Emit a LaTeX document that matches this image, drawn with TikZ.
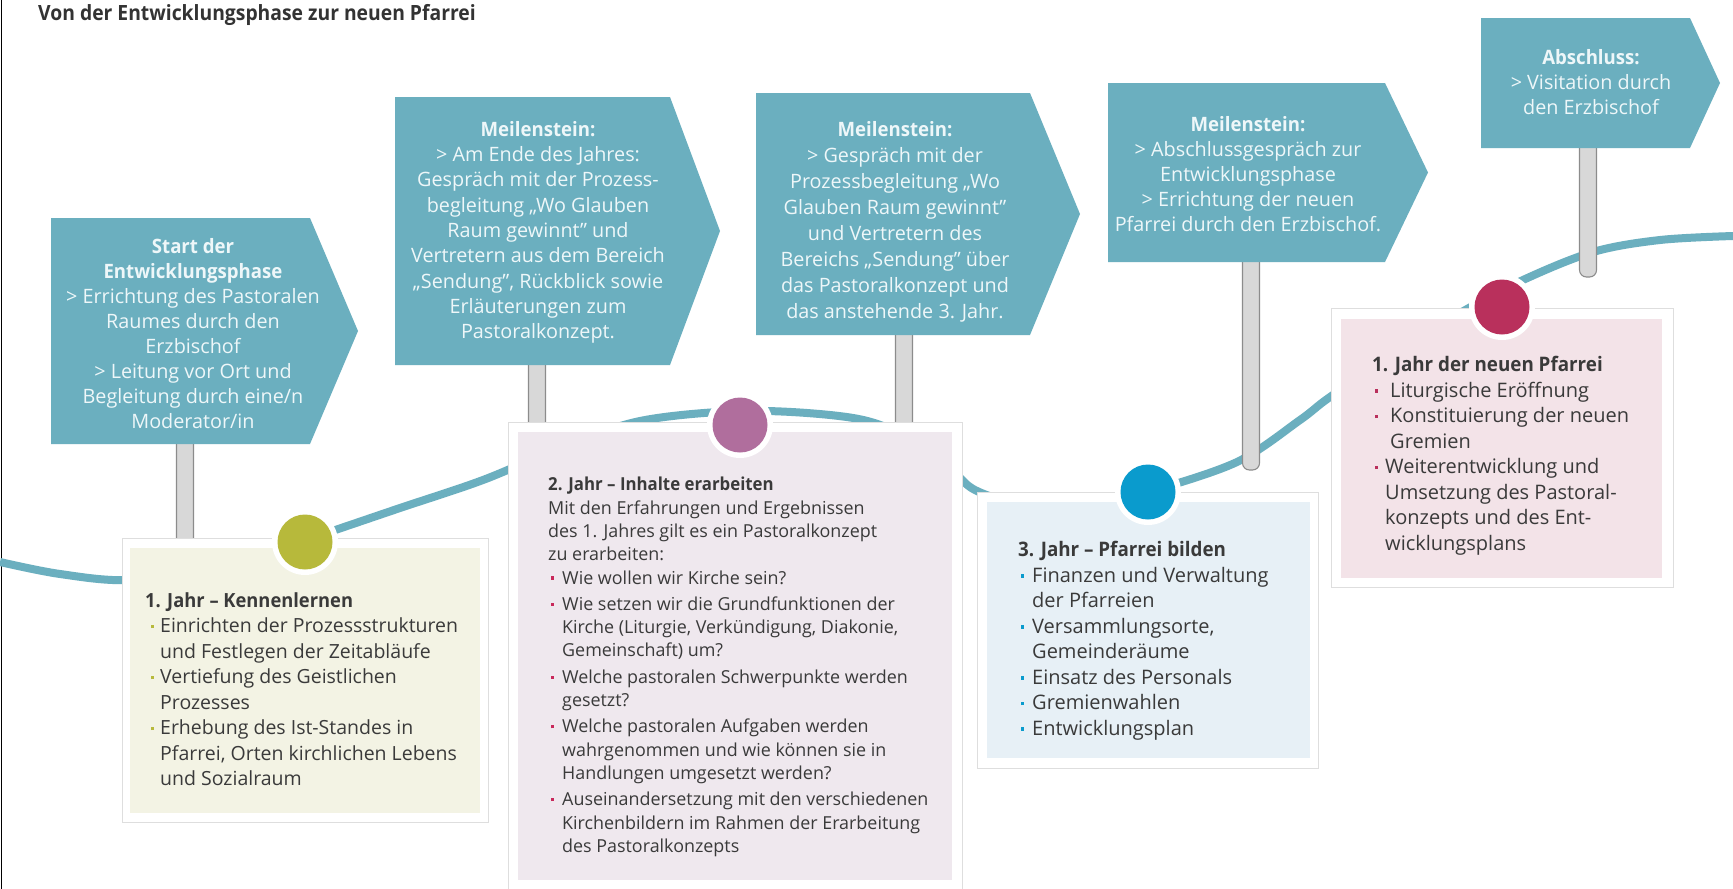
\documentclass[tikz,border=0pt]{standalone}
\usepackage{fontspec}
\setmainfont{Open Sans}
\definecolor{teal0}{HTML}{6BAFBF}
\definecolor{signtxt}{HTML}{EEF7F9}
\definecolor{ink}{HTML}{3A3A3A}
\definecolor{fillA}{HTML}{F3F3E4}
\definecolor{fillB}{HTML}{EFE8EE}
\definecolor{fillC}{HTML}{E7F0F6}
\definecolor{fillD}{HTML}{F3E3E8}
\definecolor{dotA}{HTML}{B7B93B}
\definecolor{dotB}{HTML}{B06E9D}
\definecolor{dotC}{HTML}{0A9BCD}
\definecolor{dotD}{HTML}{B9305C}
\definecolor{bulB}{HTML}{C8285A}
\definecolor{polefill}{HTML}{D8D8D8}
\definecolor{poleline}{HTML}{8C8C8C}
\newcommand\bul[3]{\makebox[#2][l]{\hspace*{#3}\textcolor{#1}{\raisebox{4.5pt}{\rule{3.2pt}{3.2pt}}}}}
\newcommand\ind[1]{\hspace*{#1}}
\newcommand\semib[1]{{\bfseries\addfontfeature{FakeStretch=0.94}#1}}
\tikzset{
  signshape/.style={fill=teal0},
  signtext/.style={text=signtxt, align=center, inner sep=0pt, anchor=north},
  cardout/.style={fill=white, draw=black!13, line width=0.8pt},
  cardtext/.style={text=ink, align=left, inner sep=0pt, anchor=north west},
  pole/.style={fill=polefill, draw=poleline, line width=1.1pt, rounded corners=7pt},
  timeline/.style={draw=teal0, line width=8pt, line cap=butt},
  ring/.style={circle, fill=white, minimum size=66pt, inner sep=0pt},
}
\begin{document}
\begin{tikzpicture}[x=1pt, y=-1pt]
\useasboundingbox (0,0) rectangle (1733,889);
\fill[white] (0,0) rectangle (1733,889);
\draw[black, line width=1.5pt] (1.5,0) -- (1.5,889);

% title
\node[anchor=base west, inner sep=0pt, text=black!80, font=\fontsize{21}{25}\selectfont\bfseries\addfontfeature{FakeStretch=0.92}] (title) at (38,20) {Von der Entwicklungsphase zur neuen Pfarrei};

% timeline curve
\draw[timeline] plot[smooth, tension=0.55] coordinates {(0,562) (60,574) (130,580) (220,566) (305,540) (400,508) (483,480) (560,448) (640,421) (740,411) (830,415) (883,426) (940,457) (975,490) (1040,508) (1100,502) (1148,492) (1237,462) (1300,420) (1330,397) (1400,350) (1460,313) (1523,280) (1593,252) (1660,240) (1733,236)};

% poles
\draw[pole] (176.5,440) -- (176.5,560) -- (193.5,560) -- (193.5,440);
\draw[pole] (528.5,360) -- (528.5,440) -- (545.5,440) -- (545.5,360);
\draw[pole] (895.5,330) -- (895.5,440) -- (912.5,440) -- (912.5,330);
\draw[pole] (1242.5,258) -- (1242.5,470) -- (1259.5,470) -- (1259.5,258);
\draw[pole] (1579.5,144) -- (1579.5,277) -- (1596.5,277) -- (1596.5,144);

% signposts
\fill[signshape] (51,218) -- (310,218) -- (358,331) -- (310,444) -- (51,444) -- cycle;
\fill[signshape] (395,97) -- (670,97) -- (720,231) -- (670,365) -- (395,365) -- cycle;
\fill[signshape] (756,93) -- (1030,93) -- (1080,214) -- (1030,335) -- (756,335) -- cycle;
\fill[signshape] (1108,83) -- (1385,83) -- (1428,172.5) -- (1385,262) -- (1108,262) -- cycle;
\fill[signshape] (1481,18) -- (1690,18) -- (1720,83) -- (1690,148) -- (1481,148) -- cycle;

\node[signtext, font=\fontsize{19.8}{25}\selectfont] (s1) at (193,238) {\semib{Start der}\\ \semib{Entwicklungsphase}\\ > Errichtung des Pastoralen\\ Raumes durch den\\ Erzbischof\\ > Leitung vor Ort und\\ Begleitung durch eine/n\\ Moderator/in};
\node[signtext, font=\fontsize{19.8}{25.3}\selectfont] (s2) at (538,121) {\semib{Meilenstein:}\\ > Am Ende des Jahres:\\ Gespräch mit der Prozess-\\ begleitung „Wo Glauben\\ Raum gewinnt" und\\ Vertretern aus dem Bereich\\ „Sendung", Rückblick sowie\\ Erläuterungen zum\\ Pastoralkonzept.};
\node[signtext, font=\fontsize{19.8}{26}\selectfont] (s3) at (895,121) {\semib{Meilenstein:}\\ > Gespräch mit der\\ Prozessbegleitung „Wo\\ Glauben Raum gewinnt"\\ und Vertretern des\\ Bereichs „Sendung" über\\ das Pastoralkonzept und\\ das anstehende 3. Jahr.};
\node[signtext, font=\fontsize{19.8}{25}\selectfont] (s4) at (1248,116) {\semib{Meilenstein:}\\ > Abschlussgespräch zur\\ Entwicklungsphase\\ > Errichtung der neuen\\ Pfarrei durch den Erzbischof.};
\node[signtext, font=\fontsize{19.8}{25}\selectfont] (s5) at (1591,49) {\semib{Abschluss:}\\ > Visitation durch\\ den Erzbischof};

% cards
\filldraw[cardout] (122,538) rectangle (488,822);
\fill[fillA] (130,548) rectangle (480,813);
\filldraw[cardout] (508,422) rectangle (962,895);
\fill[fillB] (518,432) rectangle (952,880);
\filldraw[cardout] (977,492) rectangle (1318,768);
\fill[fillC] (987,502) rectangle (1310,758);
\filldraw[cardout] (1331,308) rectangle (1673,587);
\fill[fillD] (1341,319) rectangle (1662,578);

% circles
\node[ring] (r1) at (305,542) {};
\fill[dotA] (r1.center) circle[radius=27.5];
\node[ring] (r2) at (740,425) {};
\fill[dotB] (r2.center) circle[radius=27.5];
\node[ring] (r3) at (1148,492) {};
\fill[dotC] (r3.center) circle[radius=27.5];
\node[ring] (r4) at (1502,307) {};
\fill[dotD] (r4.center) circle[radius=27.5];

% card texts
\node[cardtext, font=\fontsize{19.5}{25.5}\selectfont] (c1) at (145,592) {\semib{1. Jahr – Kennenlernen}\\
\bul{dotA}{15pt}{6pt}Einrichten der Prozessstrukturen\\ \ind{15pt}und Festlegen der Zeitabläufe\\
\bul{dotA}{15pt}{6pt}Vertiefung des Geistlichen\\ \ind{15pt}Prozesses\\
\bul{dotA}{15pt}{6pt}Erhebung des Ist-Standes in\\ \ind{15pt}Pfarrei, Orten kirchlichen Lebens\\ \ind{15pt}und Sozialraum};

\node[cardtext, font=\fontsize{17.9}{23.3}\selectfont] (c2) at (548,477) {\semib{2. Jahr – Inhalte erarbeiten}\\
Mit den Erfahrungen und Ergebnissen\\ des 1. Jahres gilt es ein Pastoralkonzept\\ zu erarbeiten:\\
\bul{bulB}{14pt}{3pt}Wie wollen wir Kirche sein?\\[3pt]
\bul{bulB}{14pt}{3pt}Wie setzen wir die Grundfunktionen der\\ \ind{14pt}Kirche (Liturgie, Verkündigung, Diakonie,\\ \ind{14pt}Gemeinschaft) um?\\[3pt]
\bul{bulB}{14pt}{3pt}Welche pastoralen Schwerpunkte werden\\ \ind{14pt}gesetzt?\\[3pt]
\bul{bulB}{14pt}{3pt}Welche pastoralen Aufgaben werden\\ \ind{14pt}wahrgenommen und wie können sie in\\ \ind{14pt}Handlungen umgesetzt werden?\\[3pt]
\bul{bulB}{14pt}{3pt}Auseinandersetzung mit den verschiedenen\\ \ind{14pt}Kirchenbildern im Rahmen der Erarbeitung\\ \ind{14pt}des Pastoralkonzepts};

\node[cardtext, font=\fontsize{20}{25.5}\selectfont] (c3) at (1018,541) {\semib{3. Jahr – Pfarrei bilden}\\
\bul{dotC}{14pt}{3pt}Finanzen und Verwaltung\\ \ind{14pt}der Pfarreien\\
\bul{dotC}{14pt}{3pt}Versammlungsorte,\\ \ind{14pt}Gemeinderäume\\
\bul{dotC}{14pt}{3pt}Einsatz des Personals\\
\bul{dotC}{14pt}{3pt}Gremienwahlen\\
\bul{dotC}{14pt}{3pt}Entwicklungsplan};

\node[cardtext, font=\fontsize{20}{25.5}\selectfont] (c4) at (1372,356) {\semib{1. Jahr der neuen Pfarrei}\\
\bul{dotD}{18pt}{3pt}Liturgische Eröffnung\\
\bul{dotD}{18pt}{3pt}Konstituierung der neuen\\ \ind{18pt}Gremien\\
\bul{dotD}{13pt}{3pt}Weiterentwicklung und\\ \ind{13pt}Umsetzung des Pastoral-\\ \ind{13pt}konzepts und des Ent-\\ \ind{13pt}wicklungsplans};
\end{tikzpicture}
\end{document}
